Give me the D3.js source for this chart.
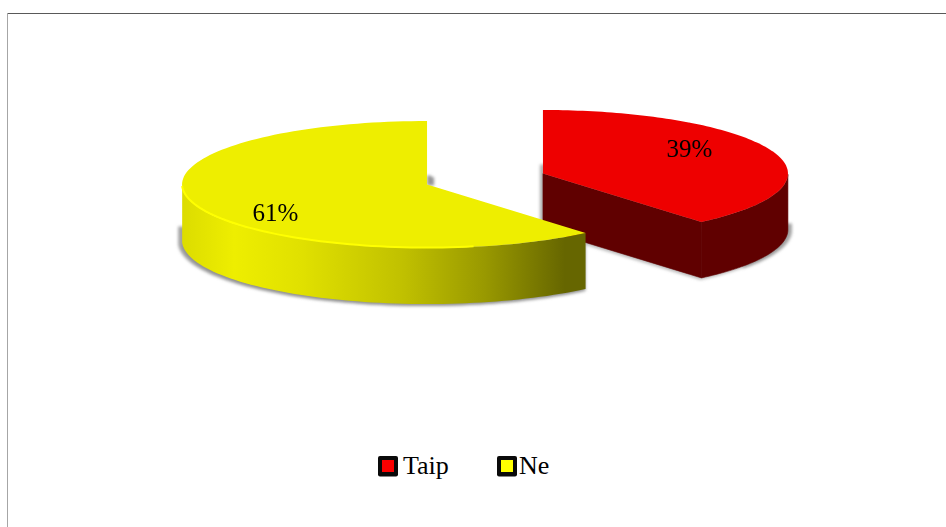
<!DOCTYPE html>
<html><head><meta charset="utf-8">
<script src="https://cdn.jsdelivr.net/npm/d3@7"></script>
<style>html,body{margin:0;padding:0;background:#fff}svg{display:block}text{font-family:"Liberation Serif",serif;fill:#000}</style>
</head><body>
<script>
const categories = ["Taip", "Ne"];
const values = [38.8, 61.2];
const labels = ["39%", "61%"];
const topColors = ["#ee0000", "#eeee00"];
const swatchColors = ["#fa0000", "#ffff00"];

const W = 946, H = 527;
const svg = d3.select("body").append("svg").attr("width", W).attr("height", H);
const defs = svg.append("defs");

const g1 = defs.append("linearGradient").attr("id", "yellowSide").attr("gradientUnits", "userSpaceOnUse")
  .attr("x1", 182).attr("x2", 585).attr("y1", 0).attr("y2", 0);
[[0, "#dcdc00"], [0.13, "#eeee00"], [0.3, "#e0e000"], [0.55, "#c0c000"], [0.75, "#999900"], [0.95, "#666600"], [1, "#666600"]]
  .forEach(([o, c]) => g1.append("stop").attr("offset", o).attr("stop-color", c));
defs.append("filter").attr("id", "blur").attr("x", "-10%").attr("y", "-20%").attr("width", "120%").attr("height", "140%")
  .append("feGaussianBlur").attr("stdDeviation", 1.8);

// frame: top and left edges only
svg.append("line").attr("x1", 7).attr("x2", W).attr("y1", 13.5).attr("y2", 13.5).attr("stroke", "#595959");
svg.append("line").attr("x1", 7.5).attr("x2", 7.5).attr("y1", 13).attr("y2", H).attr("stroke", "#a6a6a6");

const cx = 485, cy = 179, rx = 245, ry = 63.5, depth = 56, explode = 0.252;
const pie = d3.pie().sort(null).value(d => d)(values);
const pt = (c, a) => [c[0] + rx * Math.sin(a), c[1] - ry * Math.cos(a)];
const line = d3.line();

const slices = pie.map((p, i) => {
  const mid = (p.startAngle + p.endAngle) / 2;
  const c = [cx + explode * rx * Math.sin(mid), cy - explode * ry * Math.cos(mid)];
  const arc = d3.range(0, 121).map(k => p.startAngle + (p.endAngle - p.startAngle) * k / 120);
  return { i, c, mid, arc, p };
});
const [red, yellow] = slices;
const down = q => [q[0], q[1] + depth];
const topPath = s => line([s.c, ...s.arc.map(a => pt(s.c, a))]) + "Z";
const bandPath = (s, as) => {
  const upper = as.map(a => pt(s.c, a));
  return line([...upper, ...upper.slice().reverse().map(down)]) + "Z";
};
const cutPath = (s, a) => {
  const q = pt(s.c, a);
  return line([s.c, q, down(q), down(s.c)]) + "Z";
};
const redBand = red.arc.filter(a => a >= Math.PI / 2);
const yellowBand = yellow.arc.filter(a => a <= 1.5 * Math.PI);
const solids = s => s.i === 0
  ? [topPath(s), bandPath(s, redBand), cutPath(s, s.p.endAngle)]
  : [topPath(s), bandPath(s, yellowBand)];

// soft shadow pieces: [slice, dx, dy, clip x0, clip y0, clip x1, clip y1, opacity]
const shadowPieces = [
  [yellow, -4, 2, 0, yellow.c[1] + 42, W, H, 0.8],
  [yellow, 0, 2, 0, yellow.c[1] + 60, W, H, 0.8],
  [yellow, 4, -8, yellow.c[0], yellow.c[1] - 9, yellow.c[0] + 7, yellow.c[1] + 1, 0.9],
  [red, -3, -7, red.c[0] - 5, red.c[1] - 9, red.c[0] + 2, red.c[1] + 52, 0.7],
  [red, -1, 2, red.c[0], red.c[1] + 56, W, H, 0.6],
  [red, 4, 1, red.c[0] + 200, red.c[1] + 50, W, H, 0.8]
];
const shadow = svg.append("g").attr("filter", "url(#blur)").attr("fill", "#8c8c8c");
shadowPieces.forEach(([s, dx, dy, x0, y0, x1, y1, op], k) => {
  defs.append("clipPath").attr("id", "sc" + k).append("rect")
    .attr("x", x0).attr("y", y0).attr("width", x1 - x0).attr("height", y1 - y0);
  const g = shadow.append("g").attr("clip-path", `url(#sc${k})`).attr("opacity", op);
  solids(s).forEach(d => g.append("path").attr("d", d).attr("transform", `translate(${dx},${dy})`));
});

// red wedge
const redG = svg.append("g");
[bandPath(red, redBand), cutPath(red, red.p.endAngle)].forEach(d =>
  redG.append("path").attr("d", d).attr("fill", "#600000").attr("stroke", "#600000").attr("stroke-width", 0.6));
redG.append("path").attr("d", topPath(red)).attr("fill", topColors[0]);

// yellow wedge
const yG = svg.append("g");
yG.append("path").attr("d", bandPath(yellow, yellowBand)).attr("fill", "url(#yellowSide)");
yG.append("path").attr("d", topPath(yellow)).attr("fill", topColors[1]);
yG.append("path").attr("d", line(yellowBand.filter(a => a > Math.PI * 0.93).map(a => pt(yellow.c, a)).map(q => [q[0], q[1] - 0.5])))
  .attr("fill", "none").attr("stroke", "#ffff00").attr("stroke-width", 2);

// data labels
const labelPos = [[689.5, 157], [275.5, 221]];
svg.selectAll("text.lab").data(labels).join("text").attr("class", "lab")
  .attr("x", (d, i) => labelPos[i][0]).attr("y", (d, i) => labelPos[i][1])
  .attr("text-anchor", "middle").attr("font-size", 25).text(d => d);

// legend
const legendX = [378, 497], legendY = 456, sw = 20;
const lg = svg.selectAll("g.leg").data(categories).join("g").attr("class", "leg")
  .attr("transform", (d, i) => `translate(${legendX[i]},${legendY})`);
lg.append("rect").attr("width", sw).attr("height", sw + 0.5).attr("rx", 2).attr("fill", "#0a0a0a");
lg.append("rect").attr("x", 4).attr("y", 4).attr("width", sw - 8).attr("height", sw - 8)
  .attr("fill", (d, i) => swatchColors[i]);
lg.append("text").attr("x", (d, i) => i ? sw + 2 : sw + 5).attr("y", 18).attr("font-size", 26).text(d => d);
</script>
</body></html>
